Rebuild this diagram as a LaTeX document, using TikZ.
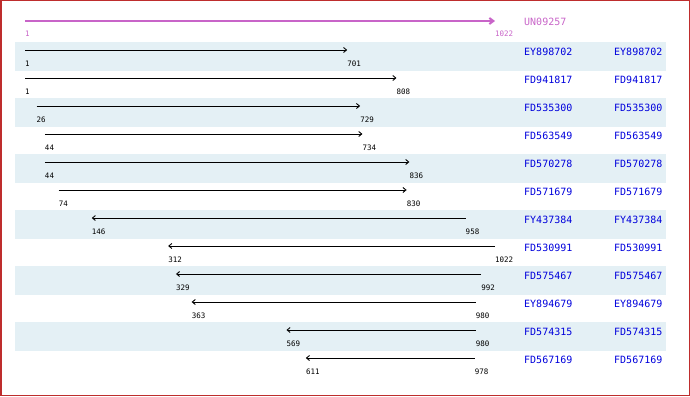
\documentclass[tikz,border=0pt]{standalone}
\usepackage{fontspec}
\usepackage{xcolor}
\usetikzlibrary{arrows.meta}
\newfontfamily\monofont{DejaVu Sans Mono}
\definecolor{hitblue}{RGB}{0,0,220}
\definecolor{querymag}{RGB}{200,100,200}
\definecolor{bandblue}{RGB}{228,240,245}
\definecolor{framered}{RGB}{190,45,45}
\tikzstyle{track} = [line width=0.9pt,-{Straight Barb[length=3pt,width=5pt]}]

\begin{document}
\begin{tikzpicture}[x=1pt, y=-1pt,
    rowband/.style={fill=bandblue, draw=none},
    accname/.style={anchor=west, inner sep=0pt, text=hitblue, font=\monofont\fontsize{10}{12}\selectfont},
    numlbl/.style={anchor=west, inner sep=0pt, font=\monofont\fontsize{7.5}{9}\selectfont}]

\useasboundingbox (0,0) rectangle (690,396);

% Shaded rows
\path[rowband] (15,42) rectangle (666,71);
\path[rowband] (15,98) rectangle (666,127);
\path[rowband] (15,154) rectangle (666,183);
\path[rowband] (15,210) rectangle (666,239);
\path[rowband] (15,266) rectangle (666,295);
\path[rowband] (15,322) rectangle (666,351);

% Frame
\draw[framered, line width=1.5pt] (0.75,0.75) rectangle (689.25,395.25);

% Tracks, in sequence positions
\begin{scope}[x=0.46033pt, xshift=24.54pt]
% Query
\coordinate (qa) at (1,21); \coordinate (qb) at (1022,21);
\node[numlbl, text=querymag] (lqa) at (1,34) {1};
\node[numlbl, text=querymag] (lqb) at (1022,34) {1022};

% Hits
\coordinate (a1) at (1,50); \coordinate (b1) at (701,50);
\node[numlbl] (la1) at (1,64) {1}; \node[numlbl] (lb1) at (701,64) {701};
\coordinate (a2) at (1,78); \coordinate (b2) at (808,78);
\node[numlbl] (la2) at (1,92) {1}; \node[numlbl] (lb2) at (808,92) {808};
\coordinate (a3) at (26,106); \coordinate (b3) at (729,106);
\node[numlbl] (la3) at (26,120) {26}; \node[numlbl] (lb3) at (729,120) {729};
\coordinate (a4) at (44,134); \coordinate (b4) at (734,134);
\node[numlbl] (la4) at (44,148) {44}; \node[numlbl] (lb4) at (734,148) {734};
\coordinate (a5) at (44,162); \coordinate (b5) at (836,162);
\node[numlbl] (la5) at (44,176) {44}; \node[numlbl] (lb5) at (836,176) {836};
\coordinate (a6) at (74,190); \coordinate (b6) at (830,190);
\node[numlbl] (la6) at (74,204) {74}; \node[numlbl] (lb6) at (830,204) {830};
\coordinate (a7) at (146,218); \coordinate (b7) at (958,218);
\node[numlbl] (la7) at (146,232) {146}; \node[numlbl] (lb7) at (958,232) {958};
\coordinate (a8) at (312,246); \coordinate (b8) at (1022,246);
\node[numlbl] (la8) at (312,260) {312}; \node[numlbl] (lb8) at (1022,260) {1022};
\coordinate (a9) at (329,274); \coordinate (b9) at (992,274);
\node[numlbl] (la9) at (329,288) {329}; \node[numlbl] (lb9) at (992,288) {992};
\coordinate (a10) at (363,302); \coordinate (b10) at (980,302);
\node[numlbl] (la10) at (363,316) {363}; \node[numlbl] (lb10) at (980,316) {980};
\coordinate (a11) at (569,330); \coordinate (b11) at (980,330);
\node[numlbl] (la11) at (569,344) {569}; \node[numlbl] (lb11) at (980,344) {980};
\coordinate (a12) at (611,358); \coordinate (b12) at (978,358);
\node[numlbl] (la12) at (611,372) {611}; \node[numlbl] (lb12) at (978,372) {978};
\end{scope}

% Query arrow
\draw[track, querymag, line width=2pt, -{Straight Barb[length=4pt,width=6pt]}] (qa) -- (qb);

% Forward hits
\draw[track] (a1) -- (b1);
\draw[track] (a2) -- (b2);
\draw[track] (a3) -- (b3);
\draw[track] (a4) -- (b4);
\draw[track] (a5) -- (b5);
\draw[track] (a6) -- (b6);

% Reverse hits
\draw[track] (b7) -- (a7);
\draw[track] (b8) -- (a8);
\draw[track] (b9) -- (a9);
\draw[track] (b10) -- (a10);
\draw[track] (b11) -- (a11);
\draw[track] (b12) -- (a12);

% Accession names
\node[accname, text=querymag] (q) at (524,22) {UN09257};
\node[accname] (h1) at (524,52) {EY898702};  \node[accname] (g1) at (614,52) {EY898702};
\node[accname] (h2) at (524,80) {FD941817};  \node[accname] (g2) at (614,80) {FD941817};
\node[accname] (h3) at (524,108) {FD535300}; \node[accname] (g3) at (614,108) {FD535300};
\node[accname] (h4) at (524,136) {FD563549}; \node[accname] (g4) at (614,136) {FD563549};
\node[accname] (h5) at (524,164) {FD570278}; \node[accname] (g5) at (614,164) {FD570278};
\node[accname] (h6) at (524,192) {FD571679}; \node[accname] (g6) at (614,192) {FD571679};
\node[accname] (h7) at (524,220) {FY437384}; \node[accname] (g7) at (614,220) {FY437384};
\node[accname] (h8) at (524,248) {FD530991}; \node[accname] (g8) at (614,248) {FD530991};
\node[accname] (h9) at (524,276) {FD575467}; \node[accname] (g9) at (614,276) {FD575467};
\node[accname] (h10) at (524,304) {EY894679}; \node[accname] (g10) at (614,304) {EY894679};
\node[accname] (h11) at (524,332) {FD574315}; \node[accname] (g11) at (614,332) {FD574315};
\node[accname] (h12) at (524,360) {FD567169}; \node[accname] (g12) at (614,360) {FD567169};

\end{tikzpicture}
\end{document}
